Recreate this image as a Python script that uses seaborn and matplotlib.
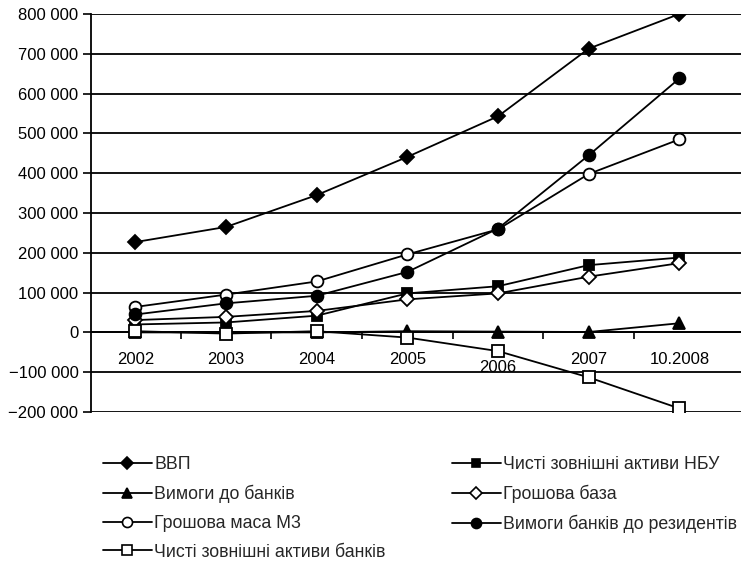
import matplotlib
matplotlib.use("Agg")
import matplotlib.pyplot as plt
import matplotlib.transforms as mtransforms
from matplotlib.lines import Line2D
from matplotlib.ticker import FuncFormatter, FixedLocator
import seaborn as sns
import pandas as pd

categories = ["2002", "2003", "2004", "2005", "2006", "2007", "10.2008"]

vvp = [227000, 265000, 345000, 441000, 543000, 713000, 800000]
nbu_assets = [20000, 25000, 42000, 98000, 116000, 169000, 188000]
bank_claims = [0, 0, 0, 3000, 2000, 1000, 23000]
money_base = [31000, 39000, 54000, 83000, 98000, 140000, 174000]
m3 = [64000, 95000, 128000, 196000, 259000, 398000, 485000]
resident_claims = [45000, 73000, 92000, 152000, 261000, 445000, 638000]
bank_assets = [3000, -3000, 3000, -13000, -47000, -113000, -191000]

series_names = ["ВВП", "Чисті зовнішні активи НБУ", "Вимоги до банків", "Грошова база",
                "Грошова маса М3", "Вимоги банків до резидентів", "Чисті зовнішні активи банків"]
series_values = [vvp, nbu_assets, bank_claims, money_base, m3, resident_claims, bank_assets]
series_markers = ["D", "s", "^", "D", "o", "o", "s"]
series_filled = [True, True, True, False, False, True, False]
series_msize = [7, 7.5, 8.5, 7, 8.5, 8.5, 8]

sns.set_theme(style="white")
plt.rcParams["font.family"] = ["Liberation Sans", "DejaVu Sans"]
plt.rcParams["axes.unicode_minus"] = True

W, H = 741, 566
fig = plt.figure(figsize=(W / 100, H / 100), dpi=100)
ax = fig.add_axes([91 / W, (H - 412) / H, (W - 91) / W, 398 / H])

handles = {}
for name, vals, mk, filled, ms in zip(series_names, series_values, series_markers,
                                      series_filled, series_msize):
    df = pd.DataFrame({"x": range(len(categories)), "y": vals})
    sns.lineplot(data=df, x="x", y="y", ax=ax, color="black", linewidth=1.3,
                 marker=mk, markersize=ms, markeredgecolor="black",
                 markerfacecolor="black" if filled else "white",
                 markeredgewidth=1.3, sort=False, zorder=3)
    handles[name] = Line2D([], [], color="black", linewidth=1.3, marker=mk,
                           markersize=ms * 0.85, markeredgecolor="black",
                           markerfacecolor="black" if filled else "white",
                           markeredgewidth=1.2)

ax.set_xlim(-0.49, 6.68)
ax.set_ylim(-200000, 800000)
ax.set_xlabel("")
ax.set_ylabel("")

yt = list(range(-200000, 800001, 100000))
ax.set_yticks(yt)
ax.yaxis.set_major_formatter(FuncFormatter(
    lambda v, p: ("\u2212" if v < 0 else "") + f"{abs(int(v)):,}".replace(",", " ")))
ax.yaxis.grid(True, color="black", linewidth=1.3)
ax.set_axisbelow(True)
ax.tick_params(axis="y", which="major", direction="out", length=6, width=1.2,
               colors="black", labelsize=12, pad=3, left=True)

ax.set_xticks(range(len(categories)))
ax.set_xticklabels(categories)
ax.xaxis.set_minor_locator(FixedLocator([i + 0.5 for i in range(len(categories) - 1)]))
ax.tick_params(axis="x", which="major", length=0, labelsize=12, pad=14, colors="black")
ax.tick_params(axis="x", which="minor", direction="out", length=5, width=1.2,
               colors="black", bottom=True)
ax.spines["bottom"].set_position(("data", 0))
ax.spines["bottom"].set_linewidth(1.3)
ax.spines["bottom"].set_color("black")
ax.spines["left"].set_linewidth(1.3)
ax.spines["left"].set_color("black")
ax.spines["top"].set_visible(False)
ax.spines["right"].set_visible(False)

for lab in ax.get_xticklabels():
    if lab.get_text() == "2006":
        lab.set_transform(lab.get_transform() +
                          mtransforms.ScaledTranslation(0, -6 / 72, fig.dpi_scale_trans))

leg_kw = dict(loc="upper left", frameon=False, fontsize=12.8, handlelength=2.75,
              handletextpad=0.12, labelspacing=0.66, borderpad=0, borderaxespad=0)
col1 = [series_names[i] for i in (0, 2, 4, 6)]
col2 = [series_names[i] for i in (1, 3, 5)]
leg1 = fig.legend([handles[n] for n in col1], col1,
                  bbox_to_anchor=(103 / W, 1 - 456 / H), **leg_kw)
leg2 = fig.legend([handles[n] for n in col2], col2,
                  bbox_to_anchor=(452 / W, 1 - 456 / H), **leg_kw)

fig.savefig("out.png", dpi=100)
